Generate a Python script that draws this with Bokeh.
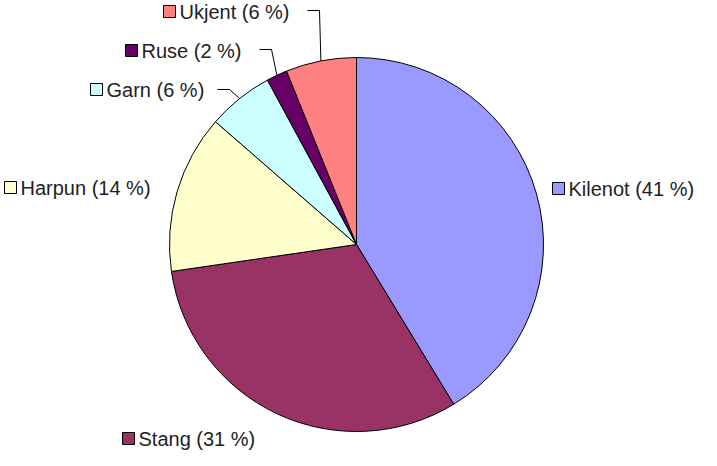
import math
from bokeh.plotting import figure
from bokeh.models import Range1d, ColumnDataSource
from bokeh.core.properties import value
from bokeh.embed import file_html
from bokeh.resources import INLINE

# ---- data ----
categories = ["Kilenot", "Stang", "Harpun", "Garn", "Ruse", "Ukjent"]
shares = [41.3, 31.4, 13.7, 5.7, 1.8, 6.1]
colors = ["#9999FF", "#993366", "#FFFFCC", "#CCFFFF", "#660066", "#FF8080"]

# ---- layout (pixel coordinates measured on the reference) ----
key_centers = [(567, 200), (137, 450), (19, 199), (105, 101), (140, 62), (178, 23)]
leader_start = {"Garn": (226, 101), "Ruse": (268, 61), "Ukjent": (316, 22)}
leader_elbow = {"Garn": (238, 101), "Ruse": (280, 61), "Ukjent": (328, 22)}

W, H = 701, 450
OX, OY = 9, 12  # visible window of the reference coordinates
p = figure(width=W, height=H, x_range=Range1d(OX, OX + W), y_range=Range1d(0, H),
           output_backend="svg", toolbar_location=None, min_border=0)
p.axis.visible = False
p.grid.visible = False
p.outline_line_color = None
p.background_fill_color = "white"
p.border_fill_color = "white"


def Y(sy):
    return H - (sy - OY)


cx, cy, r = 365, Y(256), 187
total = sum(shares)
starts, ends, mids = [], [], []
acc = 0.0
for v in shares:
    a0 = math.pi / 2 - 2 * math.pi * acc / total
    acc += v
    a1 = math.pi / 2 - 2 * math.pi * acc / total
    starts.append(a0)
    ends.append(a1)
    mids.append((a0 + a1) / 2)

src = ColumnDataSource(dict(start=starts, end=ends, color=colors))
p.wedge(x=cx, y=cy, radius=r, start_angle="start", end_angle="end", direction="clock",
        fill_color="color", line_color="black", line_width=1, source=src)

# leader lines
for name, mid in zip(categories, mids):
    if name in leader_start:
        sx, sy = leader_start[name]
        ex, ey = leader_elbow[name]
        px = cx + r * math.cos(mid)
        py = cy + r * math.sin(mid)
        p.line([sx, ex, px], [Y(sy), Y(ey), py], line_color="black", line_width=1)

# labels with keys
labels = [f"{c} ({round(v)} %)" for c, v in zip(categories, shares)]
kx = [k[0] for k in key_centers]
ky = [Y(k[1]) for k in key_centers]
p.rect(x=kx, y=ky, width=12, height=12, fill_color=colors, line_color="black", line_width=1)
p.text(x=[x + 10 for x in kx], y=ky, text=labels, text_font=value("Liberation Sans"),
       text_font_size="20px", text_baseline="middle", text_align="left", text_color="#222222")

open("out.html", "w").write(file_html(p, INLINE))
